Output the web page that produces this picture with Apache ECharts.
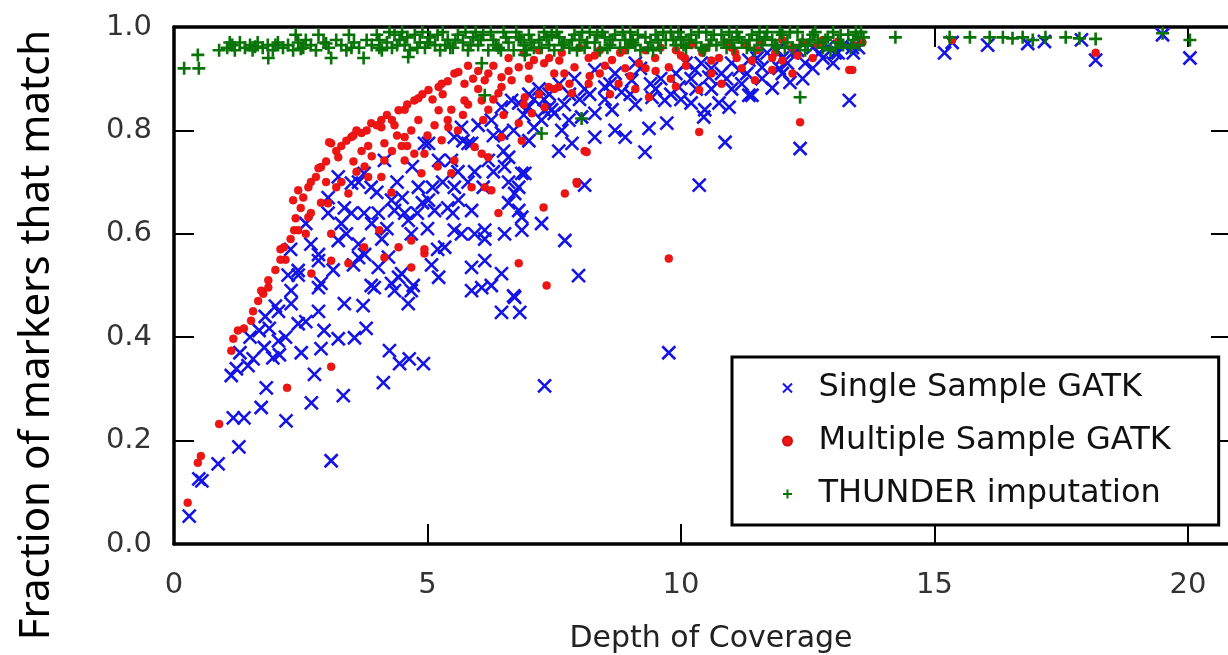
<!DOCTYPE html>
<html>
<head>
<meta charset="utf-8">
<script src="https://cdn.jsdelivr.net/npm/echarts@6/dist/echarts.min.js"></script>
<style>
  html, body { margin: 0; padding: 0; background: #fff; }
  #chart { width: 1228px; height: 655px; }
</style>
</head>
<body>
<div id="chart"></div>
<script>
// 数据: [depth, fraction]
var xTicks = [0, 5, 10, 15, 20];
var yTicks = [0.0, 0.2, 0.4, 0.6, 0.8, 1.0];
var seriesNames = ['Single Sample GATK', 'Multiple Sample GATK', 'THUNDER imputation'];

// 蓝色 x
var singleGatk = [
  [0.30,0.054],[0.49,0.126],[0.55,0.122],[0.87,0.155],[1.28,0.188],[1.17,0.244],[1.38,0.244],[1.72,0.264],
  [1.82,0.302],[2.21,0.238],[2.71,0.273],[3.10,0.161],[3.34,0.287],[2.77,0.328],[2.08,0.366],[2.51,0.370],
  [2.90,0.378],[4.13,0.312],[4.25,0.374],[4.45,0.349],[4.64,0.358],[4.92,0.349],[7.31,0.306],[1.13,0.326],
  [1.23,0.339],[1.46,0.345],[1.56,0.358],[1.68,0.413],[1.88,0.417],[2.06,0.393],[2.06,0.450],[2.31,0.465],
  [2.45,0.426],[2.85,0.450],[2.96,0.413],[3.24,0.397],[3.56,0.399],[3.79,0.417],[3.36,0.465],[3.73,0.461],
  [2.85,0.496],[4.62,0.465],[3.89,0.500],[4.35,0.490],[4.72,0.500],[5.87,0.490],[6.26,0.500],[6.72,0.477],
  [6.46,0.448],[6.82,0.448],[9.76,0.370],[1.95,0.360],[2.20,0.400],[2.60,0.430],[1.78,0.380],
  [3.24,0.710],[3.64,0.700],[3.36,0.650],[3.75,0.640],[3.04,0.670],[2.85,0.560],[3.64,0.580],[3.14,0.530],
  [3.54,0.540],[2.45,0.520],[2.25,0.520],[3.50,0.698],[3.75,0.717],[3.89,0.690],[4.15,0.742],[4.29,0.665],
  [4.55,0.640],[4.68,0.600],[5.02,0.775],[5.22,0.742],[5.53,0.690],[5.87,0.645],[6.13,0.607],[6.52,0.600],
  [6.80,0.690],[6.86,0.717],[6.60,0.748],[6.20,0.742],[5.87,0.775],[5.53,0.787],[6.46,0.795],[7.31,0.839],
  [7.10,0.806],[6.80,0.853],[3.04,0.640],[3.24,0.587],[3.64,0.554],[4.03,0.535],[4.43,0.516],[2.85,0.548],
  [2.45,0.529],[2.31,0.490],[2.90,0.504],[4.29,0.504],[5.34,0.574],[5.87,0.535],[6.07,0.496],[6.46,0.523],
  [5.67,0.600],[6.86,0.607],[7.25,0.620],[5.22,0.516],[4.68,0.490],[6.92,0.717],[6.60,0.700],[6.52,0.730],
  [5.93,0.720],[5.53,0.607],[5.93,0.600],[6.13,0.590],[6.13,0.548],[5.20,0.570],[5.08,0.540],[5.02,0.665],
  [5.14,0.645],[5.61,0.665],[4.49,0.523],[3.95,0.496],[3.76,0.560],[4.03,0.640],[4.35,0.645],[4.62,0.626],
  [4.23,0.555],[4.82,0.690],[4.94,0.775],[5.47,0.742],[5.80,0.775],[5.67,0.806],[6.26,0.820],[6.46,0.845],
  [6.66,0.858],[7.00,0.845],[7.40,0.845],[7.25,0.820],[7.50,0.833],[6.80,0.645],[6.86,0.632],[6.72,0.678],
  [6.70,0.480],[7.71,0.587],[7.98,0.519],[8.10,0.694],[10.36,0.694],[9.29,0.758],[10.87,0.777],
  [8.30,0.917],[8.50,0.884],[8.83,0.874],[9.03,0.897],[9.43,0.864],[9.68,0.858],[9.96,0.884],[10.28,0.917],
  [10.55,0.903],[10.80,0.910],[11.15,0.917],[10.20,0.853],[10.47,0.840],[10.75,0.853],[10.95,0.845],[11.34,0.868],
  [8.30,0.833],[8.64,0.840],[8.70,0.800],[8.90,0.787],[8.30,0.787],[8.04,0.826],[7.79,0.820],[7.65,0.800],
  [7.59,0.760],[7.85,0.775],[9.37,0.804],[9.72,0.814],[10.45,0.826],[7.45,0.840],
  [11.40,0.868],[11.80,0.882],[12.15,0.893],[12.35,0.765],[13.32,0.858],[13.04,0.950],[13.50,0.960],[12.45,0.930],
  [12.73,0.950],[11.94,0.920],[11.60,0.922],[11.34,0.936],
  [7.00,0.870],[7.20,0.880],[7.60,0.890],[7.90,0.900],[8.10,0.880],[8.70,0.910],[9.20,0.920],[9.60,0.900],
  [9.90,0.910],[10.10,0.930],[10.60,0.920],[11.00,0.930],[11.50,0.940],[11.70,0.950],[12.00,0.940],[12.30,0.955],
  [12.60,0.960],[12.90,0.962],[13.20,0.965],[8.00,0.860],[8.50,0.860],[9.10,0.850],[9.50,0.880],[10.00,0.860],
  [10.30,0.880],[7.30,0.860],[6.90,0.830],[7.70,0.850],[10.90,0.900],[11.20,0.890],[12.00,0.910],[12.60,0.920],
  [13.00,0.930],[6.30,0.790],[6.00,0.810],[6.70,0.800],[7.00,0.780],[6.50,0.760],[5.30,0.700],[5.60,0.720],
  [4.70,0.730],[4.00,0.680],[3.30,0.620],[4.40,0.700],[4.90,0.660],[5.70,0.780],[6.10,0.690],[4.10,0.590],
  [3.40,0.600],[2.70,0.580],[2.60,0.620],[2.30,0.570],[2.00,0.460],[1.80,0.440],[1.50,0.400],[1.30,0.370],
  [7.10,0.860],[7.40,0.870],[7.80,0.870],[8.20,0.870],[8.60,0.890],[9.00,0.870],[9.40,0.890],[9.80,0.870],
  [10.20,0.900],[10.60,0.880],[11.00,0.880],[11.30,0.910],[11.60,0.900],[12.10,0.930],[12.40,0.900],[12.80,0.940],
  [13.10,0.950],[13.40,0.950],[9.10,0.930],[10.40,0.930],[11.90,0.955],[12.20,0.950],
  [4.50,0.670],[4.80,0.640],[5.10,0.690],[5.40,0.650],[5.80,0.700],[6.30,0.720],[6.60,0.660],[3.90,0.620],
  [4.20,0.610],[3.50,0.640],[5.00,0.610],[5.50,0.640],
  [13.38,0.960],[15.20,0.950],[15.35,0.970],[16.05,0.965],[16.84,0.968],[17.17,0.972],[17.90,0.975],[18.18,0.936],
  [19.50,0.985],[20.04,0.940]
];

// 红色圆点
var multipleGatk = [
  [0.27,0.080],[0.47,0.157],[0.53,0.170],[0.89,0.232],[2.23,0.302],[3.10,0.343],[1.13,0.374],[1.17,0.397],
  [1.26,0.413],[1.38,0.417],[1.52,0.432],[1.56,0.450],[1.66,0.470],[1.76,0.484],[1.86,0.496],[7.35,0.500],
  [1.72,0.490],[1.86,0.510],[2.17,0.574],[2.37,0.607],[2.45,0.684],[2.65,0.690],[2.90,0.729],[3.10,0.775],
  [3.24,0.748],[3.50,0.787],[3.70,0.795],[3.89,0.814],[4.09,0.820],[4.43,0.839],[4.74,0.858],[5.02,0.878],
  [5.22,0.884],[5.53,0.910],[5.73,0.890],[6.13,0.897],[6.46,0.903],[6.80,0.922],[7.10,0.936],
  [4.15,0.775],[4.55,0.787],[4.82,0.820],[5.22,0.839],[5.41,0.806],[5.73,0.858],[6.07,0.858],[6.40,0.872],
  [3.04,0.659],[2.65,0.632],[3.10,0.600],[3.44,0.678],[3.83,0.710],[4.15,0.742],[4.55,0.742],[4.94,0.755],
  [5.28,0.781],[5.53,0.742],[5.93,0.768],[6.20,0.748],[6.46,0.787],[6.80,0.814],[7.06,0.833],[7.31,0.845],
  [7.39,0.884],[6.92,0.864],[3.10,0.548],[3.44,0.543],[2.71,0.523],[3.75,0.574],[4.15,0.554],[4.68,0.535],
  [4.94,0.562],[6.40,0.640],[6.80,0.543],[7.29,0.651],[6.13,0.690],
  [3.06,0.777],[2.85,0.727],[3.54,0.740],[3.54,0.790],[2.35,0.665],[2.70,0.640],[2.45,0.607],[2.10,0.570],
  [2.20,0.550],[5.61,0.913],[5.28,0.890],[4.82,0.862],[4.55,0.840],[4.09,0.806],[4.35,0.810],[4.68,0.800],
  [5.14,0.810],[5.47,0.840],[5.80,0.850],[6.00,0.880],[6.20,0.840],[4.49,0.770],[4.74,0.755],[5.20,0.730],
  [5.47,0.717],[6.07,0.755],[6.26,0.684],[5.87,0.690],[4.09,0.710],[4.29,0.680],[3.83,0.770],[3.76,0.730],
  [4.88,0.717],[6.86,0.780],[6.66,0.897],[7.40,0.940],[6.46,0.884],[4.68,0.587],[4.43,0.574],[4.05,0.607],
  [4.94,0.570],[7.65,0.950],[7.90,0.922],[8.18,0.940],[8.64,0.936],[8.90,0.955],[9.17,0.930],[9.49,0.940],
  [9.76,0.922],[10.08,0.940],[10.42,0.950],[10.75,0.940],[11.07,0.950],[7.59,0.884],[7.85,0.872],[8.18,0.890],
  [8.77,0.890],[9.37,0.864],[10.36,0.878],[8.10,0.760],[10.36,0.797],[7.95,0.697],[7.71,0.678],[13.32,0.917],
  [12.35,0.816],[11.80,0.917],[12.20,0.910],[11.46,0.897],[13.58,0.970],[11.86,0.950],[9.76,0.552],[8.14,0.758],
  [7.94,0.700],[8.40,0.955],[8.00,0.960],[9.00,0.965],[9.60,0.960],[10.20,0.965],[10.90,0.970],[11.30,0.965],
  [11.60,0.970],[12.00,0.975],[12.40,0.970],[12.80,0.975],[13.10,0.972],[7.20,0.955],[6.90,0.950],[6.60,0.940],
  [6.30,0.925],[6.00,0.915],[5.80,0.925],[7.50,0.910],[8.40,0.910],[9.00,0.905],[9.80,0.900],[10.60,0.910],
  [11.20,0.920],[12.60,0.940],[12.00,0.935],[8.60,0.870],[9.10,0.880],[9.90,0.885],[10.80,0.890],[7.00,0.900],
  [7.70,0.910],
  [2.00,0.530],[2.10,0.550],[2.30,0.590],[2.40,0.630],[2.50,0.650],[2.55,0.670],[2.70,0.700],[2.80,0.710],
  [3.00,0.740],[3.20,0.760],[3.30,0.770],[3.40,0.780],[3.60,0.800],[3.80,0.800],[4.00,0.810],[4.20,0.830],
  [4.30,0.820],[4.60,0.850],[4.90,0.870],[5.10,0.860],[5.30,0.870],[5.40,0.895],[5.90,0.900],[6.20,0.910],
  [6.60,0.915],[7.00,0.925],[7.30,0.930],[7.60,0.935],[8.30,0.945],[8.80,0.950],[9.30,0.955],[9.90,0.955],
  [10.50,0.960],[11.00,0.960],[11.50,0.955],[12.20,0.960],[12.70,0.965],[13.40,0.965],
  [2.60,0.600],[2.90,0.660],[3.30,0.700],[3.60,0.720],[3.90,0.750],[4.30,0.760],[4.60,0.770],[5.00,0.790],
  [5.40,0.820],[5.70,0.830],[6.10,0.820],[6.50,0.830],[6.90,0.850],[7.20,0.870],[7.80,0.890],[8.20,0.905],
  [8.90,0.920],[9.50,0.915],[10.10,0.925],[10.60,0.935],[11.40,0.935],[12.30,0.945],[3.20,0.690],[3.00,0.700],
  [3.70,0.760],[4.40,0.790],[5.60,0.800],[6.30,0.860],[7.50,0.880],[8.50,0.925],[9.30,0.920],[10.00,0.945],
  [11.10,0.940],[11.80,0.940],
  [13.38,0.917],[15.35,0.975],[18.18,0.950]
];

// 绿色 +
var thunderImputation = [
  [0.20,0.920],[0.49,0.920],[0.47,0.946],[0.89,0.955],[1.86,0.940],[3.10,0.940],[3.74,0.940],[4.62,0.942],
  [6.07,0.930],[6.13,0.868],[6.92,0.946],[7.25,0.794],[8.04,0.823],[12.35,0.864],[9.03,0.975],
  [1.05,0.960],[1.15,0.965],[1.20,0.955],[1.30,0.970],[1.40,0.960],[1.50,0.965],[1.55,0.955],[1.65,0.970],
  [1.75,0.960],[1.85,0.965],[1.95,0.955],[2.05,0.970],[2.15,0.960],[2.25,0.965],[2.35,0.955],[2.45,0.970],
  [2.40,0.985],[2.55,0.960],[2.60,0.975],[2.70,0.965],[2.80,0.955],[2.85,0.985],[2.95,0.970],[3.05,0.960],
  [3.20,0.975],[3.30,0.965],[3.40,0.955],[3.45,0.985],[3.55,0.970],[3.65,0.960],[3.80,0.975],[3.90,0.965],
  [4.00,0.985],[4.10,0.955],[4.20,0.970],[4.30,0.960],[4.35,0.985],[4.45,0.975],[4.55,0.965],[4.65,0.955],
  [4.75,0.985],[4.85,0.970],[4.95,0.960],[5.05,0.980],[5.15,0.965],[5.25,0.955],[5.30,0.990],[5.40,0.975],
  [5.50,0.960],[5.60,0.985],[5.70,0.970],[5.80,0.955],[5.90,0.980],[6.00,0.965],[6.10,0.985],[6.20,0.955],
  [6.30,0.975],[6.40,0.960],[6.50,0.990],[6.60,0.970],[6.70,0.955],[6.80,0.980],[6.90,0.965],[7.00,0.985],
  [7.10,0.960],[7.20,0.975],[7.30,0.990],[7.40,0.965],[7.50,0.955],[7.60,0.980],[7.70,0.970],[7.80,0.960],
  [7.90,0.985],[8.00,0.975],[8.10,0.960],[8.20,0.990],[8.30,0.970],[8.40,0.955],[8.50,0.980],[8.60,0.965],
  [8.70,0.985],[8.80,0.960],[8.90,0.975],[9.00,0.990],[9.10,0.965],[9.20,0.955],[9.30,0.980],[9.40,0.970],
  [9.50,0.985],[9.60,0.960],[9.70,0.975],[9.80,0.990],[9.90,0.965],[10.00,0.980],[10.10,0.960],[10.20,0.985],
  [10.30,0.970],[10.40,0.960],[10.50,0.990],[10.60,0.975],[10.70,0.965],[10.80,0.985],[10.90,0.960],[11.00,0.975],
  [11.10,0.990],[11.20,0.970],[11.30,0.960],[11.40,0.985],[11.50,0.975],[11.60,0.965],[11.70,0.990],[11.80,0.975],
  [11.90,0.960],[12.00,0.985],[12.10,0.970],[12.20,0.960],[12.30,0.990],[12.40,0.975],[12.50,0.965],[12.60,0.985],
  [12.70,0.970],[12.80,0.960],[12.90,0.980],[13.00,0.990],[13.10,0.970],[13.20,0.965],[13.30,0.985],[13.40,0.975],
  [13.50,0.965],[13.60,0.980],
  [1.10,0.970],[1.60,0.962],[2.00,0.965],[2.50,0.958],[3.00,0.968],[3.50,0.960],[4.05,0.960],[4.50,0.990],
  [4.90,0.990],[5.45,0.960],[5.95,0.990],[6.45,0.955],[6.95,0.955],[7.45,0.985],[7.95,0.955],[8.45,0.990],
  [8.95,0.960],[9.45,0.955],[9.95,0.990],[10.45,0.955],[10.95,0.990],[11.45,0.955],[11.95,0.990],[12.45,0.955],
  [12.95,0.955],[13.45,0.990],
  [4.05,0.975],[4.25,0.990],[4.40,0.965],[4.60,0.980],[4.80,0.960],[5.00,0.970],[5.20,0.985],[5.35,0.965],
  [5.55,0.975],[5.75,0.990],[5.85,0.965],[6.05,0.975],[6.25,0.990],[6.35,0.965],[6.55,0.980],[6.75,0.990],
  [6.85,0.975],[7.05,0.970],[7.25,0.960],[7.35,0.980],[7.55,0.990],[7.65,0.965],[7.85,0.975],[8.05,0.990],
  [8.15,0.970],[8.35,0.985],[8.55,0.960],[8.65,0.975],[8.85,0.990],[9.05,0.970],[9.15,0.985],[9.35,0.960],
  [9.55,0.975],[9.65,0.990],[9.85,0.975],[10.05,0.965],[10.15,0.975],[10.35,0.990],[10.55,0.965],[10.65,0.985],
  [10.85,0.970],[11.05,0.960],[11.15,0.980],[11.35,0.975],[11.55,0.990],[11.65,0.980],[11.85,0.965],[12.05,0.960],
  [12.15,0.990],[12.35,0.965],[12.55,0.975],[12.65,0.990],[12.85,0.975],[13.05,0.960],[13.15,0.985],[13.35,0.960],
  [13.55,0.990],
  [13.50,0.980],[14.23,0.980],[15.30,0.980],[15.70,0.980],[16.09,0.980],[16.35,0.980],[16.54,0.978],[16.74,0.980],
  [16.94,0.975],[17.19,0.980],[17.59,0.980],[17.86,0.978],[18.18,0.977],[19.50,0.988],[20.04,0.975]
];

var myChart = echarts.init(document.getElementById('chart'));

var crossPath = 'path://M0,0L10,10M10,0L0,10';
var plusPath = 'path://M5,0L5,10M0,5L10,5';

var frameLine = { show: true, onZero: false, lineStyle: { color: '#000', width: 3.5 } };
var innerTick = { show: true, inside: true, length: 20, lineStyle: { color: '#000', width: 2 } };
var labelFont = { fontFamily: 'DejaVu Sans', fontSize: 29, color: '#333' };
var xMax = 20.85;

option = {
  animation: false,
  backgroundColor: '#fff',
  grid: { left: 174, right: -3, top: 27, bottom: 111, outerBoundsMode: 'none' },
  xAxis: [{
    type: 'value', position: 'bottom', min: xTicks[0], max: xMax, interval: 5,
    axisLine: frameLine, axisTick: innerTick, splitLine: { show: false },
    axisLabel: Object.assign({ margin: 27, showMaxLabel: false,
      formatter: function (v) { return xTicks.indexOf(v) >= 0 ? String(v) : ''; } }, labelFont)
  }, {
    type: 'value', position: 'top', min: xTicks[0], max: xMax, interval: 5,
    axisLine: frameLine, axisTick: innerTick, splitLine: { show: false },
    axisLabel: { show: false }
  }],
  yAxis: [{
    type: 'value', position: 'left', min: yTicks[0], max: 1, interval: 0.2,
    axisLine: frameLine, axisTick: innerTick, splitLine: { show: false },
    axisLabel: Object.assign({ margin: 22,
      formatter: function (v) { return v.toFixed(1); } }, labelFont)
  }, {
    type: 'value', position: 'right', min: yTicks[0], max: 1, interval: 0.2,
    axisLine: frameLine, axisTick: innerTick, splitLine: { show: false },
    axisLabel: { show: false }
  }],
  legend: {
    orient: 'vertical', left: 732, top: 357,
    padding: [15, 48, 15, 50],
    borderColor: '#000', borderWidth: 3, backgroundColor: '#fff',
    itemWidth: 52, itemHeight: 9, itemGap: 21,
    textStyle: { fontFamily: 'DejaVu Sans', fontSize: 32, color: '#111' },
    data: seriesNames
  },
  graphic: [{
    type: 'text', x: 37, y: 335, rotation: Math.PI / 2,
    style: { text: 'Fraction of markers that match', fontFamily: 'Noto Sans', fontSize: 42,
      fill: '#000', align: 'center', verticalAlign: 'middle' }
  }, {
    type: 'text', x: 711, y: 639,
    style: { text: 'Depth of Coverage', fontFamily: 'DejaVu Sans', fontSize: 30,
      fill: '#222', align: 'center', verticalAlign: 'middle' }
  }],
  series: [{
    name: seriesNames[0], type: 'scatter', data: singleGatk,
    symbol: crossPath, symbolSize: 13,
    itemStyle: { color: 'transparent', borderColor: '#1414e6', borderWidth: 2.6, opacity: 1 }
  }, {
    name: seriesNames[1], type: 'scatter', data: multipleGatk,
    symbol: 'circle', symbolSize: 8,
    itemStyle: { color: '#f01414', borderColor: '#d01010', borderWidth: 0.5, opacity: 1 }
  }, {
    name: seriesNames[2], type: 'scatter', data: thunderImputation,
    symbol: plusPath, symbolSize: 13,
    itemStyle: { color: 'transparent', borderColor: '#087408', borderWidth: 2.6, opacity: 1 }
  }]
};

myChart.setOption(option);
</script>
</body>
</html>
